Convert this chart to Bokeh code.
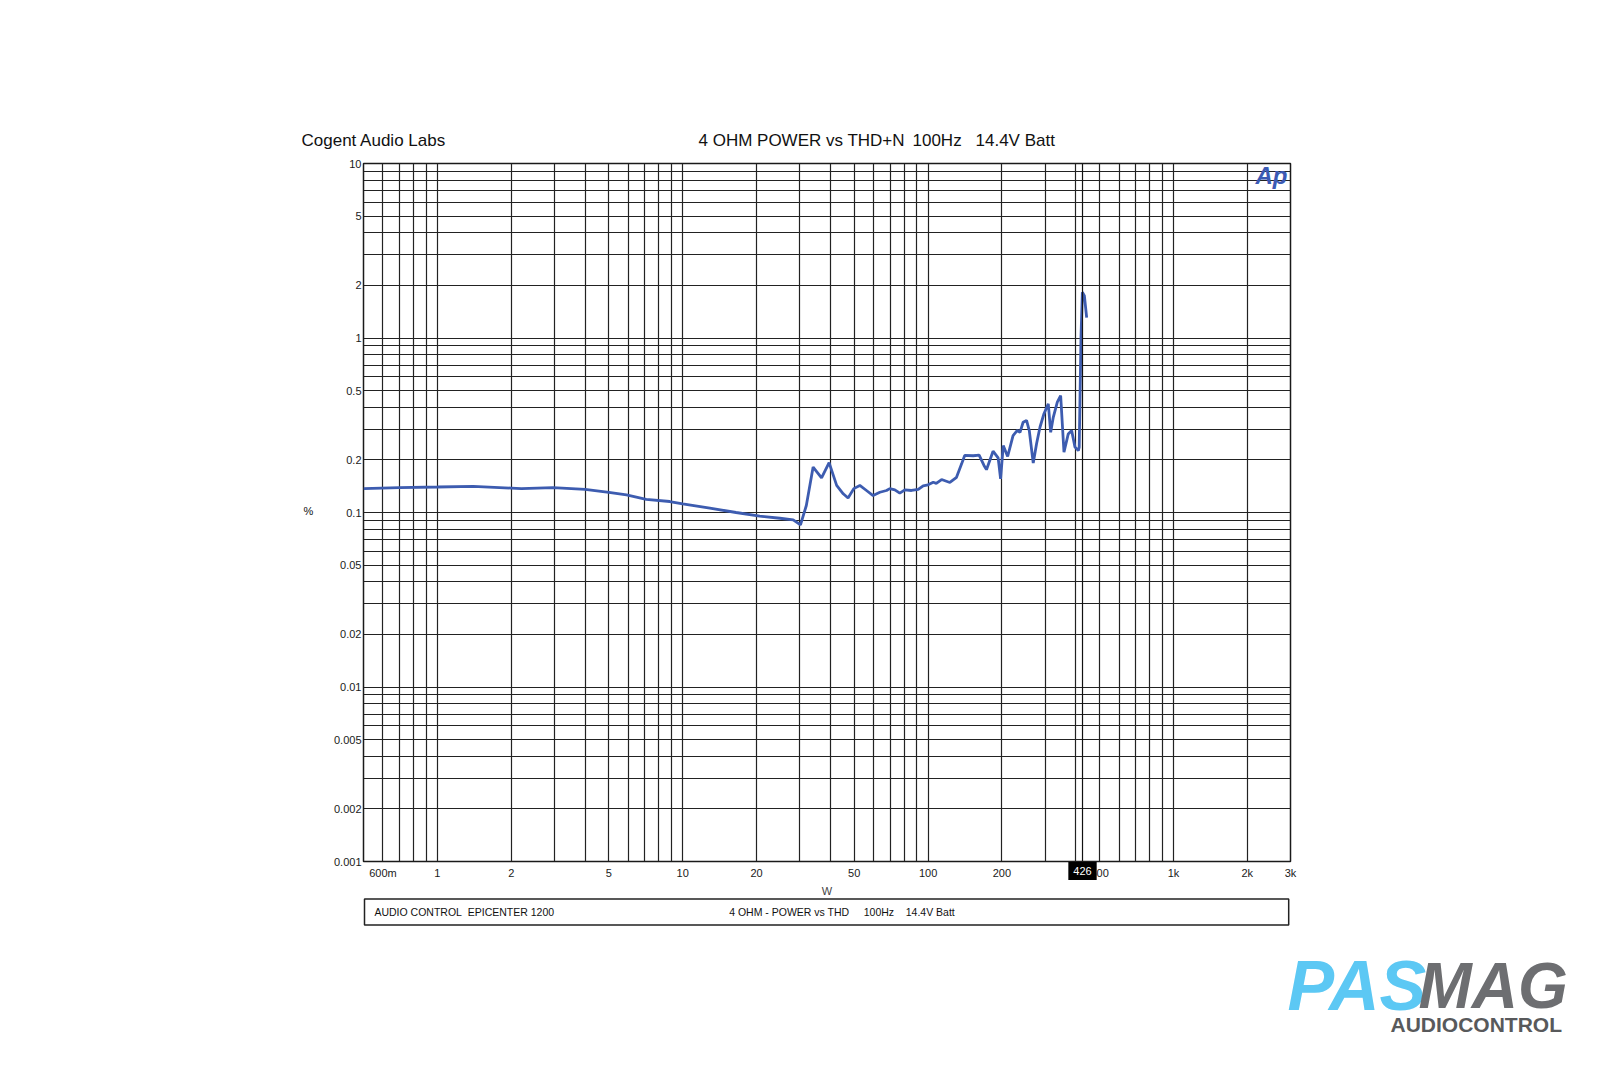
from bokeh.plotting import figure
from bokeh.models import FixedTicker, Label, Span
from bokeh.embed import file_html
from bokeh.resources import INLINE

# ---- data ----
power_w = [0.5, 0.7, 1.0, 1.4, 2.0, 2.2, 2.96, 4.0, 5.0, 5.9, 7.1, 8.85, 10, 12.9, 16.5, 20.6,
           24.9, 28.2, 30.2, 31.9, 34.0, 36.8, 39.5, 42.4, 45.1, 47.2, 49.8, 52.7, 56.1, 59.7,
           63.6, 67.7, 69.8, 73.2, 76.7, 80.4, 85.6, 91.2, 95.5, 100, 105, 108, 113.5, 122.7,
           130.6, 137, 141, 152.7, 161.5, 169, 173, 184, 193, 197.5, 202.5, 211, 222, 231, 237,
           244, 252, 258.5, 268.3, 276.8, 285.8, 296.7, 309, 316, 323.8, 336.3, 347, 358, 372.7,
           384.7, 397, 409.7, 413, 420, 425.4, 433.5, 443]
thd_pct = [0.137, 0.139, 0.140, 0.141, 0.138, 0.137, 0.139, 0.1355, 0.1306, 0.126, 0.119, 0.1156,
           0.112, 0.106, 0.100, 0.0953, 0.0927, 0.0908, 0.085, 0.1097, 0.182, 0.158, 0.193, 0.143,
           0.128, 0.121, 0.137, 0.143, 0.1337, 0.125, 0.1306, 0.1337, 0.137, 0.1349, 0.129,
           0.1349, 0.1337, 0.1355, 0.1422, 0.144, 0.149, 0.147, 0.1545, 0.1486, 0.159, 0.190,
           0.2124, 0.2115, 0.213, 0.186, 0.176, 0.2245, 0.2056, 0.156, 0.242, 0.2094, 0.276,
           0.295, 0.288, 0.329, 0.337, 0.295, 0.192, 0.248, 0.308, 0.368, 0.420, 0.288, 0.351,
           0.429, 0.468, 0.222, 0.282, 0.295, 0.237, 0.2265, 0.237, 1.01, 1.83, 1.75, 1.31]

x_tick_values = [0.6, 1, 2, 5, 10, 20, 50, 100, 200, 500, 1000, 2000, 3000]
x_tick_labels = ["600m", "1", "2", "5", "10", "20", "50", "100", "200", "500", "1k", "2k", "3k"]
y_tick_values = [0.001, 0.002, 0.005, 0.01, 0.02, 0.05, 0.1, 0.2, 0.5, 1, 2, 5, 10]
y_tick_labels = ["0.001", "0.002", "0.005", "0.01", "0.02", "0.05", "0.1", "0.2", "0.5", "1", "2", "5", "10"]
marker_power = 426

FONT = "Liberation Sans"
W, H = 1584, 1055
FL, FR, FT, FB = 363, 1290, 163, 861   # frame edges in page pixels
NB = "\u00a0"

p = figure(frame_width=FR - FL, frame_height=FB - FT, x_axis_type="log", y_axis_type="log",
           x_range=(0.5, 3000), y_range=(0.001, 10),
           output_backend="svg", toolbar_location=None,
           min_border_left=FL, min_border_right=W - FR, min_border_top=FT, min_border_bottom=H - FB)
p.title.visible = False
p.background_fill_color = "white"
p.border_fill_color = "white"
p.outline_line_color = "#1a1a1a"
p.outline_line_width = 1.5

x_grid = [m * 10 ** e for e in range(-1, 4) for m in range(1, 10)]
x_grid = [v for v in x_grid if 0.5 < v < 3000]
y_grid = [m * 10 ** e for e in range(-3, 1) for m in range(1, 10)] + [10]
p.xgrid.ticker = FixedTicker(ticks=x_grid)
p.ygrid.ticker = FixedTicker(ticks=y_grid)
for g in (p.xgrid, p.ygrid):
    g.grid_line_color = "#222222"
    g.grid_line_width = 1.2
    g.grid_line_alpha = 1.0

for ax in (p.xaxis, p.yaxis):
    ax.axis_line_color = None
    ax.major_tick_line_color = None
    ax.minor_tick_line_color = None
    ax.major_tick_out = 0
    ax.major_tick_in = 0
    ax.minor_tick_out = 0
    ax.minor_tick_in = 0
    ax.major_label_text_font = FONT
    ax.major_label_text_font_size = "11px"
    ax.major_label_text_color = "#1a1a1a"

p.xaxis.ticker = FixedTicker(ticks=x_tick_values, minor_ticks=[])
p.xaxis.major_label_overrides = dict(zip(x_tick_values, x_tick_labels))
p.xaxis.major_label_standoff = 5
p.xaxis.axis_label = "W"
p.xaxis.axis_label_text_font = FONT
p.xaxis.axis_label_text_font_style = "normal"
p.xaxis.axis_label_text_font_size = "11px"
p.xaxis.axis_label_standoff = 3

p.yaxis.ticker = FixedTicker(ticks=y_tick_values, minor_ticks=[])
p.yaxis.major_label_overrides = dict(zip(y_tick_values, y_tick_labels))
p.yaxis.major_label_standoff = 2

p.line(power_w, thd_pct, line_color="#3d5cb0", line_width=2.8)

p.add_layout(Span(location=marker_power, dimension="height", line_color="#111111", line_width=1.2))


def canvas_label(x, y, text, size, side, color="#111111", style="normal", align="left", **kw):
    lab = Label(x=x, y=y, x_units="canvas", y_units="canvas", text=text,
                text_align=align, text_baseline="middle", text_font=FONT,
                text_font_size=size, text_font_style=style, text_color=color, **kw)
    if side == "center":
        p.add_layout(lab)
    else:
        p.add_layout(lab, side)


# marker value label under the axis
p.add_layout(Label(x=marker_power, y=870.5, y_units="canvas", text=str(marker_power),
                   text_align="center", text_baseline="middle", text_font=FONT,
                   text_font_size="11px", text_color="white",
                   background_fill_color="black", padding=5), "below")

canvas_label(308, 510, "%", "11px", "left", align="center")

for txt, xp in [("Cogent Audio Labs", 301), ("4 OHM POWER vs THD+N", 698),
                ("100Hz", 912), ("14.4V Batt", 975)]:
    canvas_label(xp, 140, txt, "17px", "above")

# footer box with its texts (non-breaking spaces keep the gaps)
footer = (NB * 1 + "AUDIO CONTROL" + NB * 2 + "EPICENTER 1200" + NB * 60 +
          "4 OHM - POWER vs THD" + NB * 5 + "100Hz" + NB * 4 + "14.4V Batt" + NB * 112)
canvas_label(364, 911.5, footer, "10.5px", "below", padding=7,
             border_line_color="#222222", border_line_width=1.5)

canvas_label(1255, 175, "Ap", "24px", "center", color="#3b5ab4", style="bold italic")

canvas_label(1287, 985, "PAS", "70px", "left", color="#5cc8f4", style="bold italic")
canvas_label(1418, 985, "MAG", "64px", "right", color="#6d6e71", style="bold italic")
canvas_label(1390, 1024, "AUDIOCONTROL", "21px", "below", color="#58595b", style="bold")

open("out.html", "w").write(file_html(p, INLINE))
